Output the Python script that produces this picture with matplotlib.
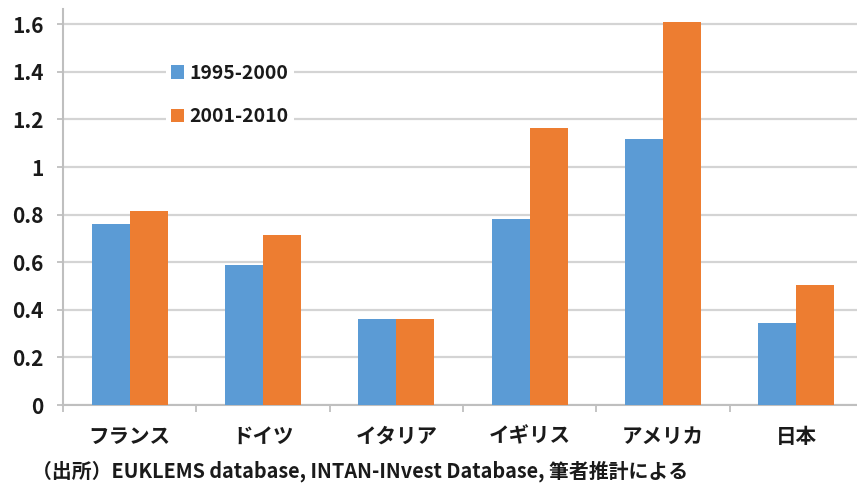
import matplotlib
matplotlib.use("Agg")
import matplotlib.pyplot as plt
import numpy as np
from matplotlib.patches import Patch

plt.rcParams['font.family'] = ['Noto Sans CJK JP', 'DejaVu Sans']

countries = ["フランス", "ドイツ", "イタリア", "イギリス", "アメリカ", "日本"]
series_labels = ["1995-2000", "2001-2010"]
values_1995_2000 = [0.76, 0.59, 0.36, 0.78, 1.118, 0.346]
values_2001_2010 = [0.815, 0.714, 0.363, 1.163, 1.61, 0.504]
y_ticks = [0, 0.2, 0.4, 0.6, 0.8, 1.0, 1.2, 1.4, 1.6]
y_tick_labels = ["0", "0.2", "0.4", "0.6", "0.8", "1", "1.2", "1.4", "1.6"]
source_note = "（出所）EUKLEMS database, INTAN-INvest Database, 筆者推計による"

blue = "#5B9BD5"
orange = "#ED7D31"
grid_c = "#D4D4D4"
axis_c = "#BFBFBF"
text_c = "#1a1a1a"

W, H = 857, 484
fig = plt.figure(figsize=(W / 100, H / 100), dpi=100)
ax = fig.add_axes([63 / W, 1 - 405 / H, 800 / W, 396 / H])

x = np.arange(len(countries))
bw = 0.286
ax.bar(x - bw / 2, values_1995_2000, bw, color=blue, zorder=3, label=series_labels[0])
ax.bar(x + bw / 2, values_2001_2010, bw, color=orange, zorder=3, label=series_labels[1])

ax.set_xlim(-0.5, len(countries) - 0.5)
ax.set_ylim(0, 1.664)

ax.set_yticks(y_ticks)
ax.set_yticklabels(y_tick_labels)
ax.yaxis.grid(True, color=grid_c, linewidth=1.6, zorder=0)
ax.set_axisbelow(True)

ax.set_xticks(x)
ax.set_xticklabels(countries)
ax.set_xticks(np.arange(len(countries) + 1) - 0.5, minor=True)
ax.tick_params(axis='x', which='major', length=0, pad=15)
ax.tick_params(axis='x', which='minor', length=5, width=1.3, color=axis_c)
ax.tick_params(axis='y', length=4.3, width=1.3, color=axis_c, pad=9.5)

for lab in ax.get_xticklabels():
    lab.set_fontsize(14.8)
    lab.set_fontweight('bold')
    lab.set_color(text_c)
for lab in ax.get_yticklabels():
    lab.set_fontsize(15)
    lab.set_fontweight('bold')
    lab.set_color(text_c)

for side in ['top', 'right']:
    ax.spines[side].set_visible(False)
for side in ['left', 'bottom']:
    ax.spines[side].set_color(axis_c)
    ax.spines[side].set_linewidth(1.5)

handles = [Patch(facecolor=blue), Patch(facecolor=orange)]
leg = ax.legend(handles, series_labels, loc='upper left',
                bbox_to_anchor=(166 / W, 1 - 59 / H), bbox_transform=fig.transFigure,
                frameon=True, facecolor='white', edgecolor='none', framealpha=1,
                handlelength=0.68, handleheight=0.68, handletextpad=0.3,
                labelspacing=1.27, borderpad=0.25, borderaxespad=0,
                prop={'weight': 'bold', 'size': 13.9})
for t in leg.get_texts():
    t.set_color(text_c)

fig.text(32 / W, 1 - 471 / H, source_note, fontsize=14.3, fontweight='bold',
         color=text_c, ha='left', va='center')

fig.savefig("out.png", dpi=100)
